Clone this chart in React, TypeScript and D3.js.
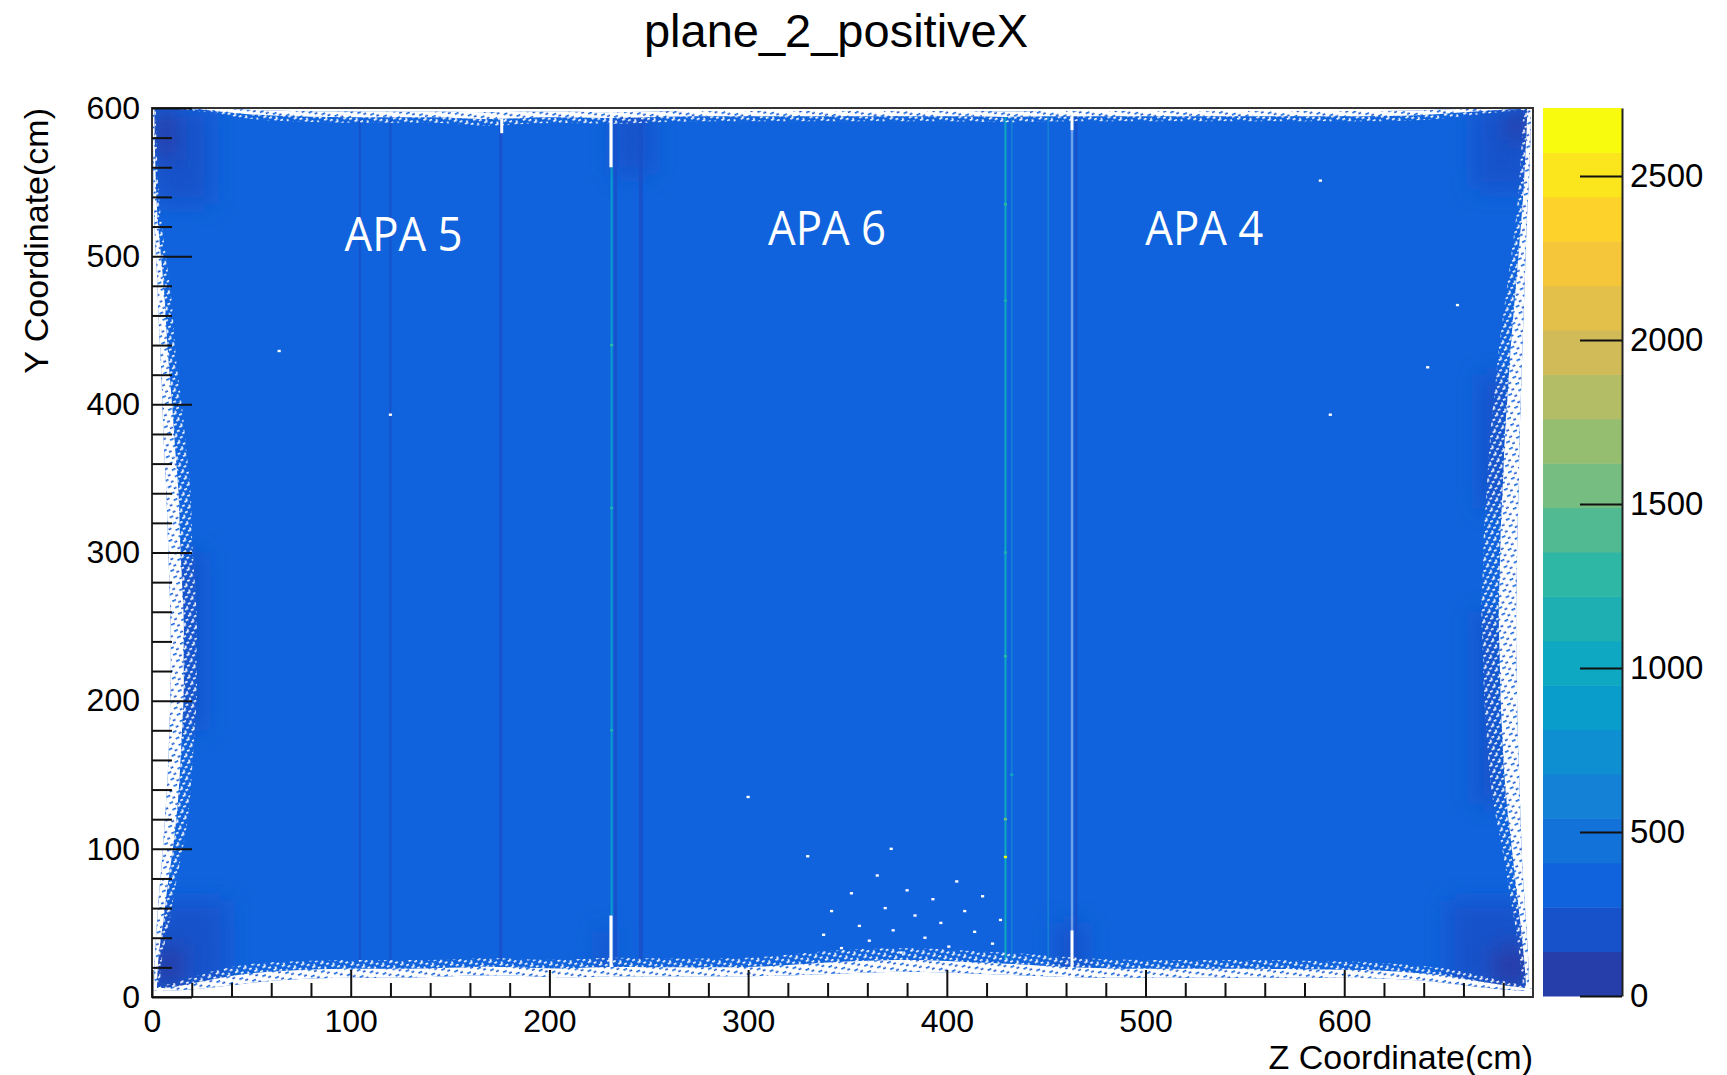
import React, { useEffect, useRef } from "react"
import * as d3 from "d3"

const WIDTH = 1727
const HEIGHT = 1075

const title = "plane_2_positiveX"
const xTitle = "Z Coordinate(cm)"
const yTitle = "Y Coordinate(cm)"

// histogram range and colour levels
const zLimits = [0, 695]
const yLimits = [0, 600]
const countMax = 2707
const nLevels = 20

const xMajorTicks = [0, 100, 200, 300, 400, 500, 600]
const yMajorTicks = [0, 100, 200, 300, 400, 500, 600]
const countTicks = [0, 500, 1000, 1500, 2000, 2500]

// typical bin content in the filled area
const bodyCount = 340

// left / right edge profiles, one value per 20 cm row (cm in Z)
const rowY = [10, 30, 50, 70, 90, 110, 130, 150, 170, 190, 210, 230, 250, 270, 290, 310, 330, 350, 370, 390, 410, 430, 450, 470, 490, 510, 530, 550, 570, 590]
const leftEmpty = [1, 1.5, 2.5, 3.5, 5, 6, 7, 8, 8.5, 9, 9.5, 9.5, 9.5, 9, 8.5, 8, 7.5, 7, 6, 5.5, 5, 4.5, 3.5, 3, 2.5, 1.5, 1, 0.8, 0.5, 0.5]
const leftSolid = [4, 5, 9, 11, 14, 17, 19, 20, 21, 22, 23, 22, 23, 22, 21, 20, 20, 19, 17, 16, 14, 12, 11, 10, 8, 6, 4, 3, 2.5, 2]
const rightSolid = [690, 688, 686, 683, 681, 678, 675, 673, 672, 671, 670, 670, 669, 669, 670, 670, 671, 672, 673, 674, 676, 677, 679, 681, 683, 685, 687, 688, 689, 690]
const rightEmpty = [693, 692.5, 691.5, 690.5, 689.5, 689, 688.5, 688, 687.5, 687, 687, 686.5, 686.5, 686.5, 687, 687, 687.5, 688, 688, 688.5, 689, 689.5, 690, 690.5, 691, 691.5, 692, 693, 693.5, 694]

// bottom / top edge profiles, one value per 20 cm column (cm in Y)
const colZ = [10, 30, 50, 70, 90, 110, 130, 150, 170, 190, 210, 230, 250, 270, 290, 310, 330, 350, 370, 390, 410, 430, 450, 470, 490, 510, 530, 550, 570, 590, 610, 630, 650, 670, 690]
const bottomEmpty = [4, 6, 10, 12, 13, 13, 13, 14, 15, 14, 13, 14, 14, 14, 14, 14, 15, 16, 17, 17, 16, 15, 14, 13, 13, 13, 13, 13, 13, 13, 13, 12, 10, 6, 4]
const bottomSolid = [8, 18, 23, 24, 25, 25, 25, 25, 27, 25, 25, 27, 26, 26, 26, 27, 30, 32, 33, 33, 31, 30, 28, 26, 25, 25, 25, 25, 25, 24, 24, 22, 20, 14, 8]
const topSolid = [600, 597, 592, 591, 590, 590, 590, 590, 587, 590, 590, 589, 590, 591, 591, 591, 591, 591, 591, 591, 591, 590, 591, 591, 591, 591, 591, 591, 591, 591, 591, 591, 593, 596, 599]
const topEmpty = [600, 600, 598.5, 598, 597.5, 597.5, 597.5, 597.5, 597, 597.5, 597.5, 597, 597.5, 598, 598, 598, 598, 598, 598, 598, 598, 597.5, 598, 598, 598, 598, 598, 598, 598, 598, 598, 598, 599, 600, 600]

// lower-count patches [z0, z1, y0, y1, count]
const patches = [
	[0, 30, 535, 600, 200],
	[0, 12, 565, 600, 110],
	[0, 38, 5, 65, 200],
	[0, 16, 5, 35, 110],
	[652, 695, 5, 65, 200],
	[674, 695, 5, 35, 110],
	[665, 695, 545, 600, 200],
	[682, 695, 578, 600, 120],
	[232, 252, 555, 600, 210],
	[455, 470, 10, 50, 210],
	[225, 232, 15, 45, 210],
	[8, 26, 180, 300, 215],
	[668, 684, 330, 420, 215],
	[666, 680, 130, 260, 215],
]

// wire-gap stripes [z, width, y0, y1, count]
const stripes = [
	[104.6, 1, 25, 592, 230],
	[120, 1, 25, 592, 230],
	[175.5, 1.5, 25, 590, 220],
	[231.3, 1, 55, 560, 850],
	[233.3, 1.5, 25, 592, 200],
	[246, 2, 25, 592, 215],
	[429.5, 1, 25, 595, 950],
	[432.7, 0.8, 25, 595, 620],
	[451, 0.8, 25, 595, 560],
	[465, 1.5, 25, 595, 200],
]

// empty gaps [z, width, y0, y1, opacity]
const gaps = [
	[231, 1.6, 560, 600, 1],
	[231, 1.6, 12, 55, 1],
	[176, 1.5, 583, 600, 1],
	[463, 1.5, 8, 45, 1],
	[463, 1.2, 45, 585, 0.4],
	[463, 1.5, 585, 600, 1],
]

// single hot bins [z, y, count]
const hotBins = [
	[429.5, 94.5, 2650],
	[429.5, 120, 1600],
	[429.5, 230, 1250],
	[429.5, 300, 1150],
	[429.5, 470, 1100],
	[429.5, 535, 1300],
	[231.3, 180, 1200],
	[231.3, 330, 1100],
	[231.3, 440, 1250],
	[432.7, 150, 1000],
]

// empty bins inside the filled area [z, y]
const holes = [
	[338, 42], [342, 58], [347, 33], [352, 70], [356, 48], [361, 38], [365, 82], [369, 60],
	[373, 45], [377, 30], [380, 72], [384, 55], [389, 40], [393, 66], [397, 50], [401, 34],
	[405, 78], [409, 58], [414, 44], [418, 68], [423, 36], [427, 52], [330, 95], [372, 100],
	[300, 135], [120, 393], [64, 436], [593, 393], [657, 467], [642, 425], [588, 551],
]

const labels = [
	{ text: "APA 5", z: 126.6, y: 503.5 },
	{ text: "APA 6", z: 339.7, y: 507.5 },
	{ text: "APA 4", z: 529.6, y: 507.5 },
]

// ROOT kBird palette
const birdStops = [0, 0.125, 0.25, 0.375, 0.5, 0.625, 0.75, 0.875, 1]
const birdR = [0.2082, 0.0592, 0.078, 0.0232, 0.1802, 0.5301, 0.8186, 0.9956, 0.9764]
const birdG = [0.1664, 0.3599, 0.5041, 0.6419, 0.7178, 0.7492, 0.7328, 0.7862, 0.9832]
const birdB = [0.5293, 0.8684, 0.8385, 0.7914, 0.6425, 0.4662, 0.3499, 0.1968, 0.0539]

const FONT = "'Liberation Sans', Arial, Helvetica, sans-serif"

const App = () => {
	const ref = useRef<SVGSVGElement>(null)

	useEffect(() => {
		const svg = d3.select(ref.current)
		svg.selectAll("*").remove()

		const x = d3.scaleLinear().domain(zLimits).range([152, 1533])
		const y = d3.scaleLinear().domain(yLimits).range([997, 108])
		const c = d3.scaleLinear().domain([0, countMax]).range([996, 108])

		const bird = d3
			.scaleLinear<string>()
			.domain(birdStops)
			.range(birdStops.map((_, i) => d3.rgb(birdR[i] * 255, birdG[i] * 255, birdB[i] * 255).formatHex()))
			.interpolate(d3.interpolateRgb)
		const step = countMax / nLevels
		const levelColor = (v: number) => {
			const i = Math.min(nLevels - 1, Math.floor(v / step))
			return bird((i + 0.99) / nLevels)
		}
		const bodyColor = levelColor(bodyCount)
		const speckColor = levelColor(200)

		const defs = svg.append("defs")
		defs
			.append("clipPath")
			.attr("id", "plotClip")
			.append("rect")
			.attr("x", x(0))
			.attr("y", y(600))
			.attr("width", x(695) - x(0))
			.attr("height", y(0) - y(600))
		defs
			.append("filter")
			.attr("id", "soft")
			.attr("x", "-50%")
			.attr("y", "-50%")
			.attr("width", "200%")
			.attr("height", "200%")
			.append("feGaussianBlur")
			.attr("stdDeviation", 11)

		// speckle textures for the ragged fringe
		const dense = defs
			.append("pattern")
			.attr("id", "speckDense")
			.attr("patternUnits", "userSpaceOnUse")
			.attr("width", 11)
			.attr("height", 7)
			.attr("patternTransform", "rotate(-25)")
		dense.append("rect").attr("width", 11).attr("height", 7).attr("fill", "#fff")
		dense.append("rect").attr("x", 1).attr("y", 1).attr("width", 4).attr("height", 1.6).attr("fill", bodyColor)
		dense.append("rect").attr("x", 6).attr("y", 4.5).attr("width", 3).attr("height", 1.6).attr("fill", speckColor)

		const sparse = defs
			.append("pattern")
			.attr("id", "speckSparse")
			.attr("patternUnits", "userSpaceOnUse")
			.attr("width", 9)
			.attr("height", 7)
			.attr("patternTransform", "rotate(-25)")
		sparse.append("rect").attr("x", 0).attr("y", 0).attr("width", 3.5).attr("height", 1.6).attr("fill", "#fff")
		sparse.append("rect").attr("x", 5).attr("y", 3).attr("width", 3).attr("height", 1.6).attr("fill", "#fff")
		sparse.append("rect").attr("x", 2).attr("y", 5.5).attr("width", 2).attr("height", 1.4).attr("fill", "#fff")

		const plot = svg.append("g").attr("clip-path", "url(#plotClip)")

		// filled body
		plot
			.append("rect")
			.attr("x", x(zLimits[0]))
			.attr("y", y(yLimits[1]))
			.attr("width", x(zLimits[1]) - x(zLimits[0]))
			.attr("height", y(yLimits[0]) - y(yLimits[1]))
			.attr("fill", bodyColor)

		// low count patches
		plot
			.append("g")
			.attr("filter", "url(#soft)")
			.selectAll("rect")
			.data(patches)
			.join("rect")
			.attr("x", d => x(d[0]))
			.attr("y", d => y(d[3]))
			.attr("width", d => x(d[1]) - x(d[0]))
			.attr("height", d => y(d[2]) - y(d[3]))
			.attr("fill", d => levelColor(d[4]))

		// stripes
		plot
			.append("g")
			.selectAll("rect")
			.data(stripes)
			.join("rect")
			.attr("x", d => x(d[0] - d[1] / 2))
			.attr("y", d => y(d[3]))
			.attr("width", d => x(d[1]) - x(0))
			.attr("height", d => y(d[2]) - y(d[3]))
			.attr("fill", d => levelColor(d[4]))

		// hot bins
		plot
			.append("g")
			.selectAll("rect")
			.data(hotBins)
			.join("rect")
			.attr("x", d => x(d[0] - 0.8))
			.attr("y", d => y(d[1] + 0.8))
			.attr("width", x(1.6) - x(0))
			.attr("height", y(0) - y(1.6))
			.attr("fill", d => levelColor(d[2]))

		// gaps
		plot
			.append("g")
			.selectAll("rect")
			.data(gaps)
			.join("rect")
			.attr("x", d => x(d[0] - d[1] / 2))
			.attr("y", d => y(d[3]))
			.attr("width", d => x(d[1]) - x(0))
			.attr("height", d => y(d[2]) - y(d[3]))
			.attr("fill", "#fff")
			.attr("opacity", d => d[4])

		// holes
		plot
			.append("g")
			.selectAll("rect")
			.data(holes)
			.join("rect")
			.attr("x", d => x(d[0] - 0.8))
			.attr("y", d => y(d[1] + 0.8))
			.attr("width", x(1.6) - x(0))
			.attr("height", y(0) - y(1.6))
			.attr("fill", "#fff")

		// ragged edges
		const extend = (pos: number[], a: number[], b: number[], lo: number, hi: number) => [
			{ p: lo, a: a[0], b: b[0] },
			...pos.map((p, i) => ({ p, a: a[i], b: b[i] })),
			{ p: hi, a: a[a.length - 1], b: b[b.length - 1] },
		]
		const vArea = d3
			.area<any>()
			.curve(d3.curveBasis)
			.y(d => y(d.p))
			.x0(d => x(d.a))
			.x1(d => x(d.b))
		const hArea = d3
			.area<any>()
			.curve(d3.curveBasis)
			.x(d => x(d.p))
			.y0(d => y(d.a))
			.y1(d => y(d.b))

		const leftMid = leftEmpty.map((v, i) => (v + leftSolid[i]) / 2)
		const rightMid = rightEmpty.map((v, i) => (v + rightSolid[i]) / 2)
		const bottomMid = bottomEmpty.map((v, i) => (v + bottomSolid[i]) / 2)
		const topMid = topEmpty.map((v, i) => (v + topSolid[i]) / 2)
		const zeroRows = rowY.map(() => zLimits[0])
		const endRows = rowY.map(() => zLimits[1])
		const zeroCols = colZ.map(() => yLimits[0])
		const endCols = colZ.map(() => yLimits[1])

		const white = "#fff"
		const edges = [
			{ path: vArea(extend(rowY, zeroRows, leftEmpty, 0, 600)), f: white },
			{ path: vArea(extend(rowY, leftEmpty, leftMid, 0, 600)), f: "url(#speckDense)" },
			{ path: vArea(extend(rowY, leftMid, leftSolid, 0, 600)), f: "url(#speckSparse)" },
			{ path: vArea(extend(rowY, rightEmpty, endRows, 0, 600)), f: white },
			{ path: vArea(extend(rowY, rightMid, rightEmpty, 0, 600)), f: "url(#speckDense)" },
			{ path: vArea(extend(rowY, rightSolid, rightMid, 0, 600)), f: "url(#speckSparse)" },
			{ path: hArea(extend(colZ, zeroCols, bottomEmpty, 0, 695)), f: white },
			{ path: hArea(extend(colZ, bottomEmpty, bottomMid, 0, 695)), f: "url(#speckDense)" },
			{ path: hArea(extend(colZ, bottomMid, bottomSolid, 0, 695)), f: "url(#speckSparse)" },
			{ path: hArea(extend(colZ, topEmpty, endCols, 0, 695)), f: white },
			{ path: hArea(extend(colZ, topMid, topEmpty, 0, 695)), f: "url(#speckDense)" },
			{ path: hArea(extend(colZ, topSolid, topMid, 0, 695)), f: "url(#speckSparse)" },
		]
		plot
			.append("g")
			.selectAll("path")
			.data(edges)
			.join("path")
			.attr("d", d => d.path)
			.attr("fill", d => d.f)

		// APA labels
		svg
			.append("g")
			.selectAll("text")
			.data(labels)
			.join("text")
			.attr("x", d => x(d.z))
			.attr("y", d => y(d.y))
			.attr("text-anchor", "middle")
			.attr("fill", "#fff")
			.style("font-family", "'Open Sans', 'Noto Sans', sans-serif")
			.style("font-size", "47px")
			.attr("textLength", 118)
			.attr("lengthAdjust", "spacingAndGlyphs")
			.text(d => d.text)

		// frame
		svg
			.append("rect")
			.attr("x", x(0))
			.attr("y", y(600))
			.attr("width", x(695) - x(0))
			.attr("height", y(0) - y(600))
			.attr("fill", "none")
			.attr("stroke", "#333")
			.attr("stroke-width", 2)

		const styleAxis = (g: any, size: number) => {
			g.select(".domain").remove()
			g.selectAll("line").attr("stroke", "#111").attr("stroke-width", 2)
			g.selectAll("text").style("font-family", FONT).style("font-size", size + "px").attr("fill", "#000")
		}

		// y axis
		svg
			.append("g")
			.attr("transform", `translate(${x(0)},0)`)
			.call(d3.axisLeft(y).tickValues(d3.range(0, 600, 20).filter(v => v % 100 !== 0)).tickSize(-20).tickFormat(() => ""))
			.call(g => styleAxis(g, 32))
		svg
			.append("g")
			.attr("transform", `translate(${x(0)},0)`)
			.call(d3.axisLeft(y).tickValues(yMajorTicks).tickSize(-40).tickPadding(12).tickFormat(d3.format("d")))
			.call(g => styleAxis(g, 32))

		// x axis
		svg
			.append("g")
			.attr("transform", `translate(0,${y(0)})`)
			.call(d3.axisBottom(x).tickValues(d3.range(0, 695, 20).filter(v => v % 100 !== 0)).tickSize(-14).tickFormat(() => ""))
			.call(g => styleAxis(g, 32))
		svg
			.append("g")
			.attr("transform", `translate(0,${y(0)})`)
			.call(d3.axisBottom(x).tickValues(xMajorTicks).tickSize(-27).tickPadding(12).tickFormat(d3.format("d")))
			.call(g => styleAxis(g, 32))

		// titles
		svg
			.append("text")
			.attr("x", 836)
			.attr("y", 47)
			.attr("text-anchor", "middle")
			.style("font-family", FONT)
			.style("font-size", "47px")
			.text(title)
		svg
			.append("text")
			.attr("x", x(695))
			.attr("y", 1069)
			.attr("text-anchor", "end")
			.style("font-family", FONT)
			.style("font-size", "34px")
			.text(xTitle)
		svg
			.append("text")
			.attr("transform", `translate(48,${y(600)}) rotate(-90)`)
			.attr("text-anchor", "end")
			.style("font-family", FONT)
			.style("font-size", "34px")
			.text(yTitle)

		// colour bar
		const bars = d3.range(nLevels)
		svg
			.append("g")
			.selectAll("rect")
			.data(bars)
			.join("rect")
			.attr("x", 1543)
			.attr("width", 79)
			.attr("y", i => c((i + 1) * step))
			.attr("height", i => c(i * step) - c((i + 1) * step) + 0.5)
			.attr("fill", i => bird((i + 0.99) / nLevels))

		const zAxis = svg
			.append("g")
			.attr("transform", "translate(1622,0)")
			.call(d3.axisRight(c).tickValues(countTicks).tickSize(-42).tickSizeOuter(0).tickPadding(8).tickFormat(d3.format("d")))
		zAxis.select(".domain").attr("stroke", "#222").attr("stroke-width", 2)
		zAxis.selectAll("line").attr("stroke", "#111").attr("stroke-width", 2)
		zAxis.selectAll("text").style("font-family", FONT).style("font-size", "33px").attr("fill", "#000")
	}, [])

	return (
		<svg
			ref={ref}
			width={WIDTH}
			height={HEIGHT}
			style={{ position: "absolute", left: 0, top: 0, background: "#fff" }}
		></svg>
	)
}

export default App
